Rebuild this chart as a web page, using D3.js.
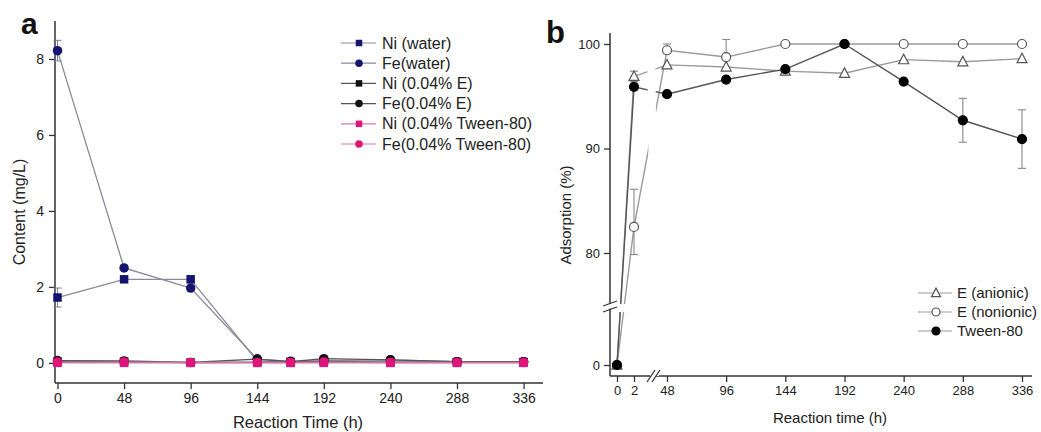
<!DOCTYPE html>
<html><head><meta charset="utf-8">
<script src="https://cdn.jsdelivr.net/npm/d3@7"></script>
<style>body{margin:0;background:#fff}svg{display:block;font-family:"Liberation Sans",Arial,sans-serif}</style>
</head><body><svg id="c" width="1041" height="432"></svg>
<script>
// ---------- Panel a data ----------
const timesA = [0, 48, 96, 144, 168, 192, 240, 288, 336];
const niWater = [1.72, 2.2, 2.2, 0.05, 0.02, 0.03, 0.02, 0.02, 0.02];
const niWaterErr = [0.25, 0, 0, 0, 0, 0, 0, 0, 0];
const feWater = [8.22, 2.5, 1.97, 0.1, 0.04, 0.06, 0.08, 0.03, 0.03];
const feWaterErr = [0.27, 0, 0, 0, 0, 0, 0, 0, 0];
const niE = [0.03, 0.03, 0.01, 0.02, 0.02, 0.04, 0.02, 0.02, 0.02];
const feE = [0.06, 0.05, 0.01, 0.1, 0.03, 0.11, 0.08, 0.03, 0.03];
const niTween = [0.0, 0.0, 0.0, 0.0, 0.0, 0.0, 0.0, 0.0, 0.0];
const feTween = [0.02, 0.02, 0.01, 0.01, 0.01, 0.02, 0.01, 0.01, 0.01];
const seriesA = ["Ni (water)", "Fe(water)", "Ni (0.04% E)", "Fe(0.04% E)", "Ni (0.04% Tween-80)", "Fe(0.04% Tween-80)"];
const xTicksA = [0, 48, 96, 144, 192, 240, 288, 336];
const yTicksA = [0, 2, 4, 6, 8];

// ---------- Panel b data ----------
const timesB = [0, 2, 48, 96, 144, 192, 240, 288, 336];
const eAnionic = [0, 96.9, 98.0, 97.8, 97.4, 97.2, 98.5, 98.3, 98.6];
const eAnionicErr = [0, 0.5, 0, 0, 0, 0, 0, 0, 0];
const eNonionic = [0, 82.5, 99.4, 98.75, 100, 100, 100, 100, 100];
const eNonionicErrUp = [0, 3.6, 0.6, 1.7, 0, 0, 0, 0, 0];
const eNonionicErrDn = [0, 3.6, 0, 0, 0, 0, 0, 0, 0];
const tween = [0, 95.9, 95.2, 96.6, 97.6, 100, 96.4, 92.7, 90.9];
const tweenErr = [0, 0, 0, 0, 0, 0, 0, 2.1, 2.8];
const seriesB = ["E (anionic)", "E (nonionic)", "Tween-80"];
const xTicksB = [0, 2, 48, 96, 144, 192, 240, 288, 336];
const yTicksB = [0, 80, 90, 100];

const svg = d3.select("#c");
const axisCol = "#333";

function styleAxis(g, fs){
  g.selectAll("path,line").attr("stroke", axisCol).attr("stroke-width", 1.3);
  g.selectAll("text").attr("fill", "#222").attr("font-size", fs);
  g.select(".domain").remove();
}

// ================= Panel a =================
const xA = d3.scaleLinear().domain([-1.8, 350]).range([55, 543]);
const yA = d3.scaleLinear().domain([-0.53, 9]).range([383, 21]);

const gxA = svg.append("g").attr("transform", "translate(0,383)")
  .call(d3.axisBottom(xA).tickValues(xTicksA).tickSize(6).tickPadding(4));
styleAxis(gxA, 14);
const gyA = svg.append("g").attr("transform", "translate(55,0)")
  .call(d3.axisLeft(yA).tickValues(yTicksA).tickSize(6).tickPadding(5));
styleAxis(gyA, 14);
svg.append("line").attr("x1", 55).attr("x2", 55).attr("y1", 21).attr("y2", 383).attr("stroke", axisCol).attr("stroke-width", 1.5);
svg.append("line").attr("x1", 55).attr("x2", 543).attr("y1", 383).attr("y2", 383).attr("stroke", axisCol).attr("stroke-width", 1.5);

const dataA = [
  {name: seriesA[0], vals: niWater, err: niWaterErr, shape: "square", col: "#14146e", line: "#8a8a9a"},
  {name: seriesA[1], vals: feWater, err: feWaterErr, shape: "circle", col: "#14146e", line: "#8a8a9a"},
  {name: seriesA[2], vals: niE, err: null, shape: "square", col: "#111", line: "#555"},
  {name: seriesA[3], vals: feE, err: null, shape: "circle", col: "#111", line: "#555"},
  {name: seriesA[4], vals: niTween, err: null, shape: "square", col: "#e0157a", line: "#d07aa8"},
  {name: seriesA[5], vals: feTween, err: null, shape: "circle", col: "#e0157a", line: "#d07aa8"}
];

function marker(g, shape, cx, cy, size, fill, stroke){
  if (shape === "square") {
    g.append("rect").attr("x", cx - size/2).attr("y", cy - size/2).attr("width", size).attr("height", size)
      .attr("fill", fill).attr("stroke", stroke || "none");
  } else if (shape === "circle") {
    g.append("circle").attr("cx", cx).attr("cy", cy).attr("r", size/2).attr("fill", fill)
      .attr("stroke", stroke || "none").attr("stroke-width", 1.2);
  } else if (shape === "triangle") {
    const h = size * 0.9;
    g.append("path").attr("d", `M${cx},${cy - h*0.6}L${cx + size/2},${cy + h*0.45}L${cx - size/2},${cy + h*0.45}Z`)
      .attr("fill", fill).attr("stroke", stroke || "none").attr("stroke-width", 1.2);
  }
}

const lineA = d3.line().x((d, i) => xA(timesA[i])).y(d => yA(d));
dataA.forEach(s => {
  svg.append("path").attr("d", lineA(s.vals)).attr("fill", "none").attr("stroke", s.line).attr("stroke-width", 1.3);
});
dataA.forEach(s => {
  const g = svg.append("g");
  if (s.err) s.err.forEach((e, i) => {
    if (!e) return;
    const x = xA(timesA[i]);
    g.append("line").attr("x1", x).attr("x2", x).attr("y1", yA(s.vals[i] - e)).attr("y2", yA(s.vals[i] + e)).attr("stroke", "#7a7a9a").attr("stroke-width", 1);
    [s.vals[i] - e, s.vals[i] + e].forEach(v => g.append("line").attr("x1", x - 4).attr("x2", x + 4).attr("y1", yA(v)).attr("y2", yA(v)).attr("stroke", "#7a7a9a").attr("stroke-width", 1));
  });
  s.vals.forEach((v, i) => marker(g, s.shape, xA(timesA[i]), yA(v), s.shape === "square" ? 8.5 : 9.5, s.col));
});

// legend a
dataA.forEach((s, i) => {
  const y = 43 + i * 20.2;
  const g = svg.append("g");
  g.append("line").attr("x1", 341).attr("x2", 376).attr("y1", y).attr("y2", y).attr("stroke", s.line).attr("stroke-width", 1.2);
  marker(g, s.shape, 359, y, s.shape === "square" ? 6.5 : 7.5, s.col);
  g.append("text").attr("x", 382).attr("y", y + 5.5).attr("font-size", 16).attr("fill", "#222").text(s.name);
});

svg.append("text").attr("x", 21).attr("y", 34).attr("font-size", 30).attr("font-weight", "bold").attr("fill", "#111").text("a");
svg.append("text").attr("x", 298).attr("y", 428).attr("text-anchor", "middle").attr("font-size", 16.5).attr("fill", "#222").text("Reaction Time (h)");
svg.append("text").attr("transform", "translate(25,212) rotate(-90)").attr("text-anchor", "middle").attr("font-size", 16).attr("fill", "#222").text("Content (mg/L)");

// ================= Panel b =================
const xB = d3.scaleLinear().domain([-1, 0, 2, 48, 336, 345]).range([610, 617, 634, 667, 1022, 1032]);
const yB = d3.scaleLinear().domain([-1, 0, 80, 100, 101.1]).range([376, 365, 253, 44, 33]);

const gxB = svg.append("g").attr("transform", "translate(0,376)")
  .call(d3.axisBottom(xB).tickValues(xTicksB).tickSize(6).tickPadding(4));
styleAxis(gxB, 13);
const gyB = svg.append("g").attr("transform", "translate(610,0)")
  .call(d3.axisLeft(yB).tickValues(yTicksB).tickSize(6).tickPadding(4));
styleAxis(gyB, 13);
svg.append("line").attr("x1", 610).attr("x2", 610).attr("y1", 33).attr("y2", 376).attr("stroke", axisCol).attr("stroke-width", 1.5);
svg.append("line").attr("x1", 610).attr("x2", 1032).attr("y1", 376).attr("y2", 376).attr("stroke", axisCol).attr("stroke-width", 1.5);

const dataB = [
  {name: seriesB[0], vals: eAnionic, up: eAnionicErr, dn: eAnionicErr, shape: "triangle", fill: "#fff", stroke: "#555", line: "#9a9a9a"},
  {name: seriesB[1], vals: eNonionic, up: eNonionicErrUp, dn: eNonionicErrDn, shape: "circle", fill: "#fff", stroke: "#555", line: "#9a9a9a"},
  {name: seriesB[2], vals: tween, up: tweenErr, dn: tweenErr, shape: "circle", fill: "#000", stroke: "#000", line: "#555"}
];
const lineB = d3.line().x((d, i) => xB(timesB[i])).y(d => yB(d));
dataB.forEach(s => {
  svg.append("path").attr("d", lineB(s.vals)).attr("fill", "none").attr("stroke", s.line).attr("stroke-width", 1.4);
});
// x break band
svg.append("path").attr("d", "M647,33L655,33L659,376L651,376Z").attr("fill", "#fff");
// y break band
svg.append("rect").attr("x", 611).attr("y", 304).attr("width", 40).attr("height", 8).attr("fill", "#fff");
// break marks
svg.append("rect").attr("x", 650).attr("y", 373).attr("width", 6).attr("height", 6).attr("fill", "#fff");
svg.append("line").attr("x1", 647).attr("y1", 382).attr("x2", 655).attr("y2", 370).attr("stroke", axisCol).attr("stroke-width", 1.3);
svg.append("line").attr("x1", 652).attr("y1", 382).attr("x2", 660).attr("y2", 370).attr("stroke", axisCol).attr("stroke-width", 1.3);
svg.append("path").attr("d", "M603,306L617,301L617,306L603,311Z").attr("fill", "#fff");
svg.append("line").attr("x1", 603).attr("y1", 306).attr("x2", 617).attr("y2", 301).attr("stroke", axisCol).attr("stroke-width", 1.3);
svg.append("line").attr("x1", 603).attr("y1", 312).attr("x2", 617).attr("y2", 307).attr("stroke", axisCol).attr("stroke-width", 1.3);

dataB.forEach(s => {
  const g = svg.append("g");
  s.vals.forEach((v, i) => {
    const x = xB(timesB[i]);
    const u = s.up[i], d = s.dn[i];
    if (u || d) {
      g.append("line").attr("x1", x).attr("x2", x).attr("y1", yB(v - d)).attr("y2", yB(v + u)).attr("stroke", "#888").attr("stroke-width", 1.1);
      if (u) g.append("line").attr("x1", x - 4).attr("x2", x + 4).attr("y1", yB(v + u)).attr("y2", yB(v + u)).attr("stroke", "#888").attr("stroke-width", 1.1);
      if (d) g.append("line").attr("x1", x - 4).attr("x2", x + 4).attr("y1", yB(v - d)).attr("y2", yB(v - d)).attr("stroke", "#888").attr("stroke-width", 1.1);
    }
  });
  s.vals.forEach((v, i) => marker(g, s.shape, xB(timesB[i]), yB(v), s.shape === "triangle" ? 10 : 9, s.fill, s.stroke));
});

// legend b
dataB.forEach((s, i) => {
  const y = 293 + i * 19;
  const g = svg.append("g");
  g.append("line").attr("x1", 918).attr("x2", 952).attr("y1", y).attr("y2", y).attr("stroke", "#999").attr("stroke-width", 1.2);
  marker(g, s.shape, 936, y, s.shape === "triangle" ? 9 : 8, s.fill, s.stroke);
  g.append("text").attr("x", 957).attr("y", y + 5).attr("font-size", 15).attr("fill", "#222").text(s.name);
});

svg.append("text").attr("x", 546).attr("y", 43).attr("font-size", 31).attr("font-weight", "bold").attr("fill", "#111").text("b");
svg.append("text").attr("x", 830).attr("y", 423).attr("text-anchor", "middle").attr("font-size", 15).attr("fill", "#222").text("Reaction time (h)");
svg.append("text").attr("transform", "translate(571,215) rotate(-90)").attr("text-anchor", "middle").attr("font-size", 15).attr("fill", "#222").text("Adsorption (%)");
</script>
</body></html>
